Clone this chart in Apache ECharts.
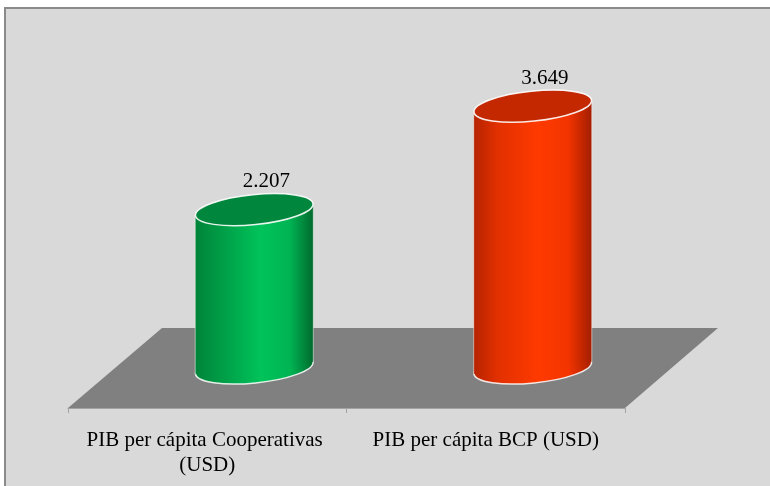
<!DOCTYPE html>
<html>
<head>
<meta charset="utf-8">
<script src="https://cdn.jsdelivr.net/npm/echarts@6/dist/echarts.min.js"></script>
<style>
  html, body { margin: 0; padding: 0; background: #fff; }
  #chart { width: 770px; height: 486px; }
</style>
</head>
<body>
<div id="chart"></div>
<script>
// data
const categories = ['PIB per cápita Cooperativas (USD)', 'PIB per cápita BCP (USD)']
const values = [2207, 3649]
const bodyColors = [
  ['#00843a', '#009a45', '#00c35a', '#00b453', '#006a2d'],
  ['#b52300', '#e23000', '#ff3a00', '#f23400', '#a31e00']
]
const topColors = ['#00863d', '#c42800']

const myChart = echarts.init(document.getElementById('chart'))

const TILT = 0.1 // rad, ellipse tilt

function fmt (v) {
  return String(v).replace(/\B(?=(\d{3})+(?!\d))/g, '.')
}

function renderCylinder (params, api) {
  const i = params.dataIndex
  const top = api.coord([api.value(0), api.value(1)])
  const base = api.coord([api.value(0), 0])
  const rx = api.size([1, 0])[0] * 0.212
  const ry = 15
  const dy = rx * Math.sin(TILT)
  const cx = top[0]
  const c = bodyColors[i]
  const grad = new echarts.graphic.LinearGradient(0, 0, 1, 0, [
    { offset: 0, color: c[0] },
    { offset: 0.2, color: c[1] },
    { offset: 0.55, color: c[2] },
    { offset: 0.8, color: c[3] },
    { offset: 1, color: c[4] }
  ])
  return {
    type: 'group',
    children: [
      {
        type: 'ellipse',
        shape: { cx: cx, cy: base[1], rx: rx, ry: ry },
        originX: cx, originY: base[1], rotation: TILT,
        style: { fill: grad, stroke: 'rgba(255,255,255,0.85)', lineWidth: 1.5 }
      },
      {
        type: 'polygon',
        shape: { points: [
          [cx - rx, top[1] + dy], [cx + rx, top[1] - dy],
          [cx + rx, base[1] - dy], [cx - rx, base[1] + dy]
        ] },
        style: { fill: grad }
      },
      {
        type: 'line',
        shape: { x1: cx - rx, y1: top[1] + dy, x2: cx - rx, y2: base[1] + dy },
        style: { stroke: 'rgba(255,255,255,0.5)', lineWidth: 1 }
      },
      {
        type: 'line',
        shape: { x1: cx + rx, y1: top[1] - dy, x2: cx + rx, y2: base[1] - dy },
        style: { stroke: 'rgba(255,255,255,0.5)', lineWidth: 1 }
      },
      {
        type: 'ellipse',
        shape: { cx: cx, cy: top[1], rx: rx, ry: ry },
        originX: cx, originY: top[1], rotation: TILT,
        style: { fill: topColors[i], stroke: 'rgba(255,255,255,0.9)', lineWidth: 1.5 }
      },
      {
        type: 'text',
        style: {
          text: fmt(api.value(1)),
          x: cx + 12, y: top[1] - 28,
          align: 'center', verticalAlign: 'middle',
          font: '21px "Liberation Serif"', fill: '#000'
        }
      }
    ]
  }
}

const option = {
  animation: false,
  graphic: [
    {
      type: 'rect', z: -10,
      shape: { x: 5, y: 8, width: 800, height: 520 },
      style: { fill: '#d9d9d9', stroke: '#8a8a8a', lineWidth: 2 }
    },
    {
      type: 'polygon', z: -5,
      shape: { points: [[68, 408], [625, 408], [718, 328], [162, 328]] },
      style: { fill: '#808080' }
    }
  ],
  grid: [
    { left: 68, right: 145, top: 81, bottom: 78 },
    { left: 115, right: 98, top: 81, bottom: 118 }
  ],
  xAxis: [
    {
      type: 'category',
      gridIndex: 0,
      data: categories,
      z: 3,
      axisLine: { show: true, lineStyle: { color: '#a3a3a3', width: 1 } },
      axisTick: { show: true, length: 5, lineStyle: { color: '#a3a3a3' } },
      axisLabel: {
        interval: 0,
        hideOverlap: false,
        margin: 20,
        width: 270,
        overflow: 'break',
        lineHeight: 25,
        color: '#000',
        fontFamily: 'Liberation Serif',
        fontSize: 21
      }
    },
    {
      type: 'category',
      gridIndex: 1,
      data: categories,
      show: false
    }
  ],
  yAxis: [
    { type: 'value', gridIndex: 0, min: 0, max: 1, show: false },
    { type: 'value', gridIndex: 1, min: 0, max: 4000, show: false }
  ],
  series: [
    {
      type: 'custom',
      xAxisIndex: 1,
      yAxisIndex: 1,
      data: values.map((v, i) => [i, v]),
      encode: { x: 0, y: 1 },
      renderItem: renderCylinder
    }
  ]
}

myChart.setOption(option)
</script>
</body>
</html>
